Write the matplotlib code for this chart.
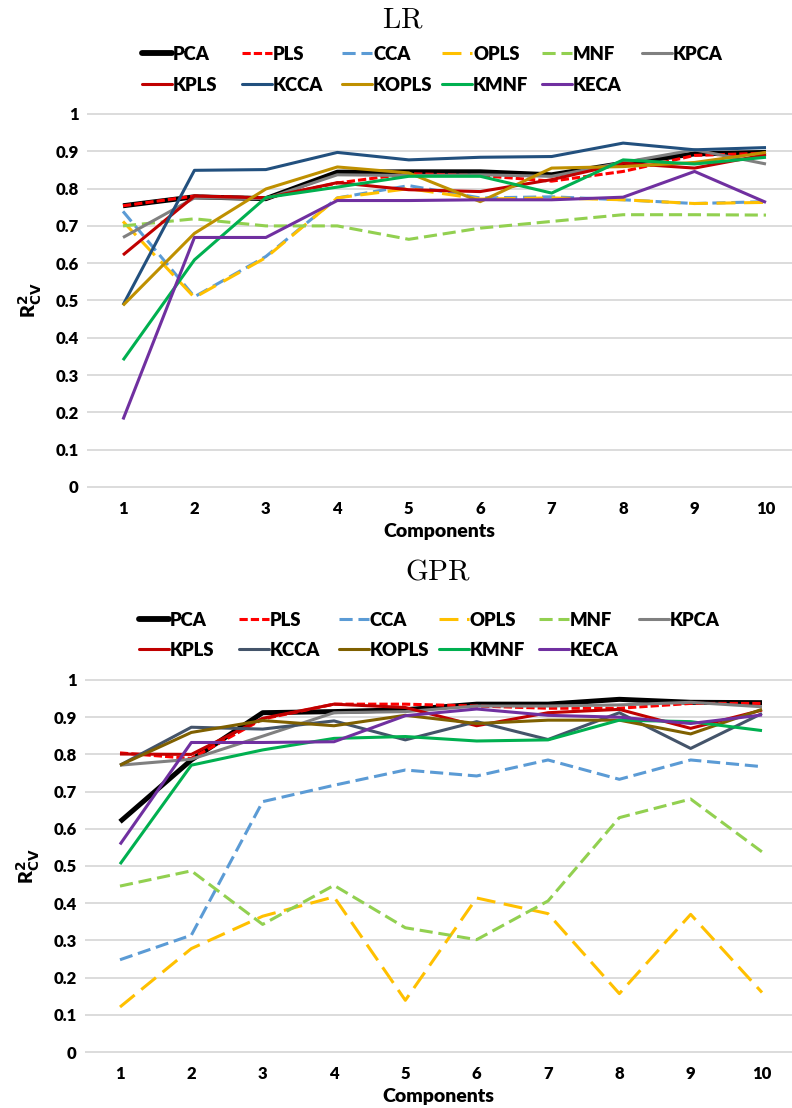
import matplotlib
matplotlib.use("Agg")
import matplotlib.pyplot as plt
from matplotlib.lines import Line2D

plt.rcParams["font.family"] = ["Lato", "DejaVu Sans"]
plt.rcParams["font.weight"] = "heavy"
plt.rcParams["axes.labelweight"] = "heavy"

W, H = 792, 1108

components = [1, 2, 3, 4, 5, 6, 7, 8, 9, 10]
methods = ["PCA", "PLS", "CCA", "OPLS", "MNF", "KPCA",
           "KPLS", "KCCA", "KOPLS", "KMNF", "KECA"]
y_ticks = [0, 0.1, 0.2, 0.3, 0.4, 0.5, 0.6, 0.7, 0.8, 0.9, 1]
y_ticklabels = ["0", "0.1", "0.2", "0.3", "0.4", "0.5", "0.6", "0.7", "0.8", "0.9", "1"]

# R2_CV, linear regression
lr_pca = [0.754, 0.778, 0.773, 0.844, 0.845, 0.845, 0.837, 0.868, 0.893, 0.897]
lr_pls = [0.754, 0.780, 0.775, 0.815, 0.840, 0.835, 0.820, 0.846, 0.889, 0.895]
lr_cca = [0.739, 0.510, 0.618, 0.775, 0.808, 0.775, 0.778, 0.770, 0.760, 0.765]
lr_opls = [0.712, 0.508, 0.615, 0.775, 0.800, 0.772, 0.775, 0.770, 0.760, 0.763]
lr_mnf = [0.700, 0.719, 0.700, 0.700, 0.664, 0.694, 0.712, 0.730, 0.730, 0.729]
lr_kpca = [0.669, 0.775, 0.773, 0.837, 0.835, 0.837, 0.833, 0.870, 0.904, 0.866]
lr_kpls = [0.622, 0.780, 0.775, 0.816, 0.797, 0.792, 0.824, 0.868, 0.855, 0.891]
lr_kcca = [0.488, 0.849, 0.851, 0.897, 0.877, 0.884, 0.886, 0.922, 0.904, 0.910]
lr_kopls = [0.487, 0.680, 0.799, 0.858, 0.842, 0.765, 0.855, 0.859, 0.870, 0.897]
lr_kmnf = [0.340, 0.609, 0.776, 0.804, 0.833, 0.833, 0.788, 0.877, 0.866, 0.884]
lr_keca = [0.181, 0.669, 0.669, 0.768, 0.768, 0.770, 0.770, 0.777, 0.846, 0.763]

# R2_CV, Gaussian process regression
gpr_pca = [0.619, 0.785, 0.912, 0.915, 0.920, 0.935, 0.935, 0.948, 0.940, 0.939]
gpr_pls = [0.804, 0.789, 0.895, 0.935, 0.935, 0.930, 0.924, 0.924, 0.937, 0.937]
gpr_cca = [0.248, 0.314, 0.673, 0.717, 0.758, 0.742, 0.785, 0.733, 0.785, 0.767]
gpr_opls = [0.121, 0.278, 0.365, 0.417, 0.139, 0.414, 0.372, 0.157, 0.370, 0.160]
gpr_mnf = [0.446, 0.487, 0.343, 0.448, 0.334, 0.302, 0.406, 0.630, 0.680, 0.538]
gpr_kpca = [0.771, 0.787, 0.849, 0.912, 0.915, 0.930, 0.930, 0.933, 0.940, 0.928]
gpr_kpls = [0.801, 0.800, 0.897, 0.935, 0.926, 0.877, 0.912, 0.921, 0.870, 0.919]
gpr_kcca = [0.771, 0.873, 0.868, 0.890, 0.839, 0.888, 0.840, 0.912, 0.816, 0.910]
gpr_kopls = [0.771, 0.859, 0.891, 0.877, 0.905, 0.883, 0.892, 0.892, 0.855, 0.921]
gpr_kmnf = [0.505, 0.771, 0.812, 0.843, 0.848, 0.836, 0.839, 0.892, 0.888, 0.864]
gpr_keca = [0.558, 0.832, 0.832, 0.834, 0.904, 0.922, 0.905, 0.900, 0.883, 0.906]

lr_series = [lr_pca, lr_pls, lr_cca, lr_opls, lr_mnf, lr_kpca,
             lr_kpls, lr_kcca, lr_kopls, lr_kmnf, lr_keca]
gpr_series = [gpr_pca, gpr_pls, gpr_cca, gpr_opls, gpr_mnf, gpr_kpca,
              gpr_kpls, gpr_kcca, gpr_kopls, gpr_kmnf, gpr_keca]

lr_colors = ["#000000", "#FF0000", "#5B9BD5", "#FFC000", "#92D050", "#808080",
             "#C00000", "#22507E", "#BF9000", "#00B050", "#7030A0"]
gpr_colors = ["#000000", "#FF0000", "#5B9BD5", "#FFC000", "#92D050", "#808080",
              "#C00000", "#44546A", "#7F6000", "#00B050", "#7030A0"]

LW = 2.2
styles = {
    "PCA": dict(lw=3.6, ls="-"),
    "PLS": dict(lw=LW, ls=(0, (2.7, 1.0))),
    "CCA": dict(lw=LW, ls=(0, (4.3, 1.9))),
    "OPLS": dict(lw=LW, ls=(0, (6.2, 2.8))),
    "MNF": dict(lw=LW, ls=(0, (4.3, 1.9))),
}


def fx(px):
    return px / W


def fy(py):
    return 1 - py / H


def draw_panel(ax, series, colors, left_px, x_first_px, x_last_px):
    for name, vals, col in zip(methods, series, colors):
        st = styles.get(name, dict(lw=LW, ls="-"))
        ax.plot(components, vals, color=col, lw=st["lw"], ls=st["ls"],
                solid_joinstyle="round", solid_capstyle="butt",
                dash_capstyle="butt", zorder=3)
    step = (x_last_px - x_first_px) / 9
    ax.set_xlim(1 - (x_first_px - left_px) / step,
                1 + (W - x_first_px) / step)
    ax.set_ylim(-0.02, 1.02)
    ax.set_xticks(components)
    ax.set_xticklabels([str(c) for c in components])
    ax.set_yticks(y_ticks)
    ax.set_yticklabels(y_ticklabels)
    ax.tick_params(length=0, labelsize=12, pad=6)
    ax.tick_params(axis="x", pad=5)
    for s in ax.spines.values():
        s.set_visible(False)
    ax.grid(axis="y", color="#D9D9D9", lw=1.3, zorder=0)
    ax.set_xlabel("Components", fontsize=14, fontweight="heavy", labelpad=4)
    ax.set_ylabel(r"R$^{\mathbf{2}}_{\mathbf{CV}}$", fontsize=14,
                  fontweight="heavy", labelpad=8)


def draw_legend(fig, colors, x0_px, row_y_px):
    for i, (name, col) in enumerate(zip(methods, colors)):
        row, c = divmod(i, 6)
        xs = x0_px + 100 * c
        y = row_y_px[row]
        st = styles.get(name, dict(lw=LW, ls="-"))
        lw = st["lw"] if name != "PCA" else 4.2
        fig.add_artist(Line2D([fx(xs), fx(xs + 30)], [fy(y), fy(y)],
                              transform=fig.transFigure, color=col, lw=lw,
                              ls=st["ls"], solid_capstyle="round",
                              dash_capstyle="butt"))
        fig.text(fx(xs + 31), fy(y), name, fontsize=13.3,
                 ha="left", va="center_baseline")


fig = plt.figure(figsize=(W / 100, H / 100), dpi=100)
pad = 0.02 * 373

# LR panel: y=1 at 114 px, y=0 at 487 px
ax1 = fig.add_axes([fx(87), fy(487 + pad), fx(W - 87),
                    (487 - 114 + 2 * pad) / H])
draw_panel(ax1, lr_series, lr_colors, 87, 123, 766)

# GPR panel: y=1 at 680 px, y=0 at 1052 px
ax2 = fig.add_axes([fx(85), fy(1052 + pad), fx(W - 85),
                    (1052 - 680 + 2 * pad) / H])
draw_panel(ax2, gpr_series, gpr_colors, 85, 120, 762)

fig.text(fx(403), fy(20), r"$\mathrm{LR}$", fontsize=21, ha="center",
         va="center", math_fontfamily="cm")
fig.text(fx(438), fy(571), r"$\mathrm{GPR}$", fontsize=21, ha="center",
         va="center", math_fontfamily="cm")

draw_legend(fig, lr_colors, 142, [53, 84])
draw_legend(fig, gpr_colors, 139, [619, 649])

fig.savefig("out.png", dpi=100)
